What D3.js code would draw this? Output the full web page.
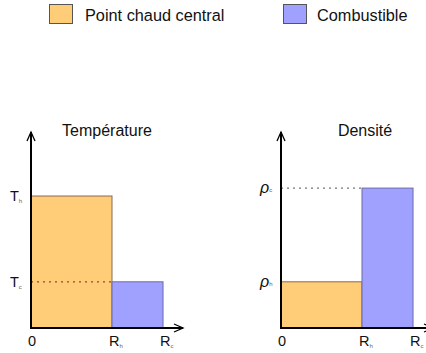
<!DOCTYPE html>
<html><head><meta charset="utf-8">
<script src="https://cdn.jsdelivr.net/npm/d3@7"></script>
<style>body{margin:0;background:#fff}text{font-family:"Liberation Sans",Arial,sans-serif;fill:#111}</style>
</head><body>
<script>
const seriesNames = ["Point chaud central", "Combustible"];
const seriesColors = ["#FFCC77", "#A0A0FF"];
const seriesStrokes = ["#8a6a50", "#6a6aa8"];
const radiusTicks = [{b:"0",s:""},{b:"R",s:"h"},{b:"R",s:"c"}];
const radiusValues = [0, 1, 1.63];
const panelTitles = ["Température", "Densité"];
const temperatureValues = [1.0, 0.35];
const densityValues = [0.35, 1.06];
const temperatureTicks = [{b:"T",s:"h",v:1.0},{b:"T",s:"c",v:0.35}];
const densityTicks = [{b:"ρ",s:"c",v:1.06},{b:"ρ",s:"h",v:0.35}];

const W=426,H=353;
const svg=d3.select("body").append("svg").attr("width",W).attr("height",H);

// legend
const leg=[{x:49,tx:85},{x:283,tx:317}];
seriesNames.forEach((n,i)=>{
  svg.append("rect").attr("x",leg[i].x+0.5).attr("y",4.5).attr("width",23).attr("height",19)
    .attr("fill",seriesColors[i]).attr("stroke","#555").attr("stroke-width",1);
  svg.append("text").attr("x",leg[i].tx).attr("y",20.5).attr("font-size",16.3).text(n);
});

const y=d3.scaleLinear().domain([0,1.485]).range([328,132]);
const panels=[
  {x0:31,title:panelTitles[0],titleX:107,vals:temperatureValues,ticks:temperatureTicks,dot:{v:temperatureValues[1],to:radiusValues[1],color:"#a04030"},italic:false},
  {x0:281,title:panelTitles[1],titleX:365,vals:densityValues,ticks:densityTicks,dot:{v:densityValues[1],to:radiusValues[1],color:"#777"},italic:true}
];

panels.forEach(p=>{
  const x=d3.scaleLinear().domain([0,1]).range([p.x0,p.x0+81]);
  const g=svg.append("g");
  p.vals.forEach((v,i)=>{
    g.append("rect").attr("x",x(radiusValues[i])).attr("y",y(v))
      .attr("width",x(radiusValues[i+1])-x(radiusValues[i])).attr("height",y(0)-y(v))
      .attr("fill",seriesColors[i]).attr("stroke",seriesStrokes[i]).attr("stroke-width",1);
  });
  g.append("line").attr("x1",x(0)).attr("x2",x(p.dot.to)).attr("y1",y(p.dot.v)).attr("y2",y(p.dot.v))
    .attr("stroke",p.dot.color).attr("stroke-width",1.2).attr("stroke-dasharray","2,4");
  const top=y(1.485), xEnd=p.x0+152;
  g.append("line").attr("x1",x(0)).attr("x2",x(0)).attr("y1",y(0)+1).attr("y2",top).attr("stroke","#000").attr("stroke-width",2);
  g.append("path").attr("d",`M${x(0)-4},${top+9}L${x(0)},${top}L${x(0)+4},${top+9}`).attr("fill","none").attr("stroke","#000").attr("stroke-width",1.3);
  g.append("line").attr("x1",x(0)-1).attr("x2",xEnd).attr("y1",y(0)).attr("y2",y(0)).attr("stroke","#000").attr("stroke-width",2);
  g.append("path").attr("d",`M${xEnd-9},${y(0)-4}L${xEnd},${y(0)}L${xEnd-9},${y(0)+4}`).attr("fill","none").attr("stroke","#000").attr("stroke-width",1.3);
  g.append("text").attr("x",p.titleX).attr("y",136).attr("text-anchor","middle").attr("font-size",16).text(p.title);
  radiusTicks.forEach((t,i)=>{
    const tx=g.append("text").attr("x",x(radiusValues[i])-3).attr("y",346).attr("font-size",14.5);
    tx.append("tspan").text(t.b);
    if(t.s) tx.append("tspan").attr("font-size",6).attr("dy",2).attr("fill","#666").text(t.s);
  });
  p.ticks.forEach(t=>{
    const tx=g.append("text").attr("x",p.x0-21).attr("y",y(t.v)+5).attr("font-size",p.italic?16:14.5)
      .attr("font-style",p.italic?"italic":"normal");
    tx.append("tspan").text(t.b);
    tx.append("tspan").attr("font-size",6).attr("font-style","normal").attr("dy",p.italic?-1:2).attr("fill","#666").text(t.s);
  });
});
</script>
</body></html>
